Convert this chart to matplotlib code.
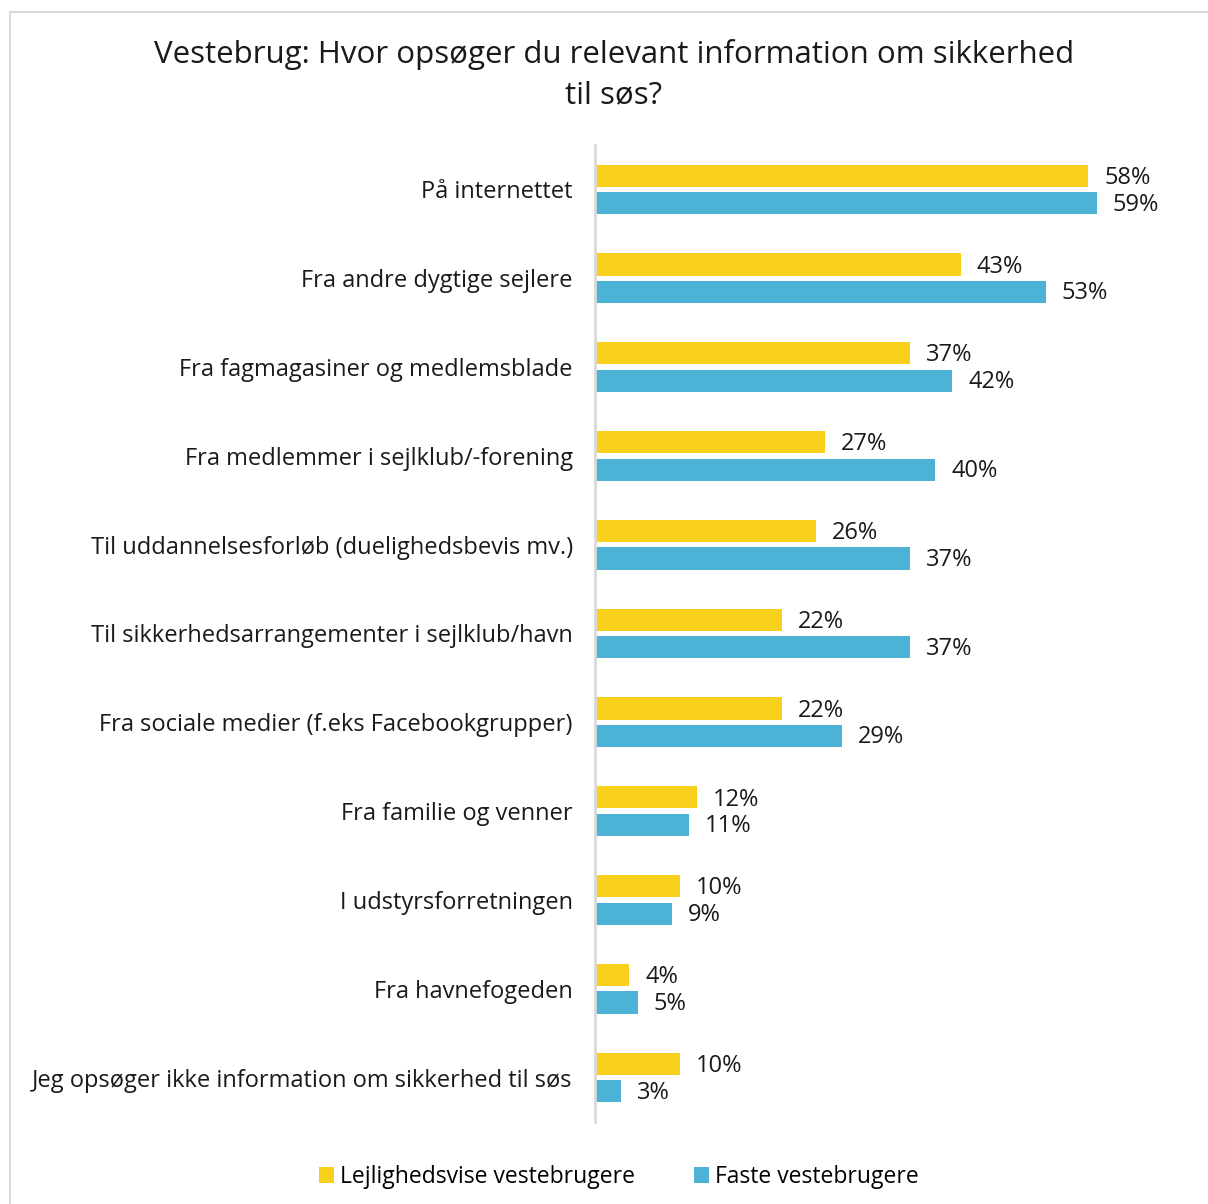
import matplotlib
matplotlib.use("Agg")
import matplotlib.pyplot as plt
from matplotlib.patches import Rectangle
import numpy as np

plt.rcParams['font.family'] = ['Open Sans', 'DejaVu Sans']

categories = [
    "På internettet",
    "Fra andre dygtige sejlere",
    "Fra fagmagasiner og medlemsblade",
    "Fra medlemmer i sejlklub/-forening",
    "Til uddannelsesforløb (duelighedsbevis mv.)",
    "Til sikkerhedsarrangementer i sejlklub/havn",
    "Fra sociale medier (f.eks Facebookgrupper)",
    "Fra familie og venner",
    "I udstyrsforretningen",
    "Fra havnefogeden",
    "Jeg opsøger ikke information om sikkerhed til søs",
]
lejlighedsvise = [58, 43, 37, 27, 26, 22, 22, 12, 10, 4, 10]
faste = [59, 53, 42, 40, 37, 37, 29, 11, 9, 5, 3]
series_names = ["Lejlighedsvise vestebrugere", "Faste vestebrugere"]
colors = ["#F9D01B", "#4CB2D6"]

W, H = 1208, 1204
fig = plt.figure(figsize=(W / 100, H / 100), dpi=100)

# light frame around the chart area
fig.add_artist(Rectangle((10 / W, -0.01), 1.1, (H - 12) / H + 0.01,
                         transform=fig.transFigure, fill=False,
                         edgecolor="#D9D9D9", linewidth=1.5))

ax = fig.add_axes([595 / W, (H - 1122) / H, 595 / W, (1122 - 145) / H])
n = len(categories)
y = np.arange(n)
bh = 0.25
ax.barh(y - 0.155, lejlighedsvise, height=bh, color=colors[0], label=series_names[0])
ax.barh(y + 0.155, faste, height=bh, color=colors[1], label=series_names[1])

fs = 17
for yi, v in zip(y, lejlighedsvise):
    ax.text(v + 1.9, yi - 0.13, f"{v}%", va="center", ha="left", fontsize=fs, color="#1a1a1a")
for yi, v in zip(y, faste):
    ax.text(v + 1.9, yi + 0.17, f"{v}%", va="center", ha="left", fontsize=fs, color="#1a1a1a")

ax.set_xlim(0, 70)
ax.set_ylim(n - 0.5, -0.5)
ax.set_yticks(y)
ax.set_yticklabels(categories, fontsize=fs, color="#1a1a1a")
ax.tick_params(axis="y", length=0, pad=16)
ax.set_xticks([])
for s in ["top", "right", "bottom"]:
    ax.spines[s].set_visible(False)
ax.spines["left"].set_color("#D9D9D9")
ax.spines["left"].set_linewidth(2)

fig.text(614 / W, 1 - 55 / H, "Vestebrug: Hvor opsøger du relevant information om sikkerhed",
         ha="center", va="center", fontsize=22.5, color="#1a1a1a")
fig.text(614 / W, 1 - 95 / H, "til søs?", ha="center", va="center", fontsize=22.5, color="#1a1a1a")

fig.legend(loc="center", bbox_to_anchor=(619 / W, 1 - 1177 / H), ncol=2, frameon=False,
           fontsize=16.5, handlelength=0.65, handleheight=0.65, handletextpad=0.25,
           columnspacing=2.6)

fig.savefig("out.png", dpi=100, facecolor="white")
